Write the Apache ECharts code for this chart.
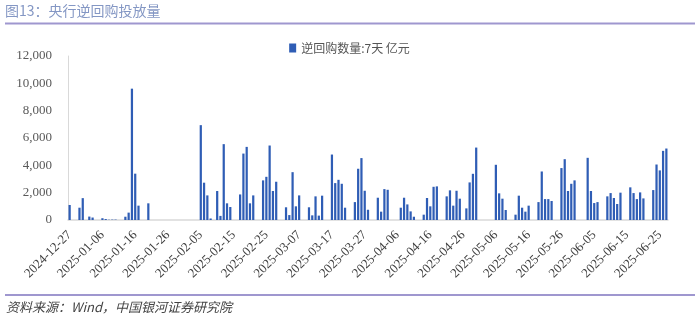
<!DOCTYPE html>
<html>
<head>
<meta charset="utf-8">
<script src="https://cdn.jsdelivr.net/npm/echarts@6/dist/echarts.min.js"></script>
<style>
  html, body { margin: 0; padding: 0; background: #ffffff; }
  #chart { width: 699px; height: 322px; }
</style>
</head>
<body>
<div id="chart"></div>
<script>
// 7-day reverse repo operations by the central bank (亿元), one entry per operation day
const tradeDates = [
  '2024-12-27','2024-12-30','2024-12-31','2025-01-02','2025-01-03',
  '2025-01-06','2025-01-07','2025-01-08','2025-01-09','2025-01-10',
  '2025-01-13','2025-01-14','2025-01-15','2025-01-16','2025-01-17',
  '2025-01-20',
  '2025-02-05','2025-02-06','2025-02-07','2025-02-08',
  '2025-02-10','2025-02-11','2025-02-12','2025-02-13','2025-02-14',
  '2025-02-17','2025-02-18','2025-02-19','2025-02-20','2025-02-21',
  '2025-02-24','2025-02-25','2025-02-26','2025-02-27','2025-02-28',
  '2025-03-03','2025-03-04','2025-03-05','2025-03-06','2025-03-07',
  '2025-03-10','2025-03-11','2025-03-12','2025-03-13','2025-03-14',
  '2025-03-17','2025-03-18','2025-03-19','2025-03-20','2025-03-21',
  '2025-03-24','2025-03-25','2025-03-26','2025-03-27','2025-03-28',
  '2025-03-31','2025-04-01','2025-04-02','2025-04-03',
  '2025-04-07','2025-04-08','2025-04-09','2025-04-10','2025-04-11',
  '2025-04-14','2025-04-15','2025-04-16','2025-04-17','2025-04-18',
  '2025-04-21','2025-04-22','2025-04-23','2025-04-24','2025-04-25',
  '2025-04-27','2025-04-28','2025-04-29','2025-04-30',
  '2025-05-06','2025-05-07','2025-05-08','2025-05-09',
  '2025-05-12','2025-05-13','2025-05-14','2025-05-15','2025-05-16',
  '2025-05-19','2025-05-20','2025-05-21','2025-05-22','2025-05-23',
  '2025-05-26','2025-05-27','2025-05-28','2025-05-29','2025-05-30',
  '2025-06-03','2025-06-04','2025-06-05','2025-06-06',
  '2025-06-09','2025-06-10','2025-06-11','2025-06-12','2025-06-13',
  '2025-06-16','2025-06-17','2025-06-18','2025-06-19','2025-06-20',
  '2025-06-23','2025-06-24','2025-06-25','2025-06-26','2025-06-27'
];
const repoValues = [
  1100, 900, 1600, 250, 180,
  130, 70, 20, 30, 30,
  240, 540, 9610, 3390, 1050,
  1220,
  6940, 2730, 1800, 110,
  2120, 300, 5550, 1220, 950,
  1870, 4860, 5350, 1220, 1800,
  2900, 3160, 5450, 2120, 2800,
  930, 360, 3500, 1000, 1800,
  930, 340, 1730, 320, 1780,
  4790, 2700, 2940, 2650, 900,
  1310, 3750, 4530, 2140, 750,
  1630, 610, 2260, 2210,
  900, 1630, 1140, 630, 240,
  390, 1610, 1000, 2430, 2460,
  1730, 2170, 1050, 2140, 1560,
  850, 2750, 3380, 5300,
  4040, 1950, 1560, 730,
  390, 1780, 900, 610, 1050,
  1310, 3550, 1530, 1530, 1390,
  3800, 4450, 2120, 2650, 2900,
  4550, 2120, 1240, 1310,
  1730, 1970, 1610, 1170, 2000,
  2390, 1970, 1530, 2020, 1580,
  2190, 4060, 3630, 5060, 5230
];
const seriesName = '逆回购数量:7天 亿元';
const yTicks = [0, 2000, 4000, 6000, 8000, 10000, 12000];
const firstDay = '2024-12-27';
const lastDay = '2025-06-27';

// Calendar-day axis: every day between the first and last day is a slot
function buildCalendar(startStr, endStr) {
  const out = [];
  const d = new Date(startStr + 'T00:00:00Z');
  const end = new Date(endStr + 'T00:00:00Z');
  while (d <= end) {
    out.push(d.toISOString().slice(0, 10));
    d.setUTCDate(d.getUTCDate() + 1);
  }
  return out;
}
const calendarDays = buildCalendar(firstDay, lastDay);
const valueByDate = {};
tradeDates.forEach((t, i) => { valueByDate[t] = repoValues[i]; });
const barData = calendarDays.map(t => (t in valueByDate ? valueByDate[t] : null));

const chart = echarts.init(document.getElementById('chart'), null, { renderer: 'canvas' });
chart.setOption({
  animation: false,
  backgroundColor: '#ffffff',
  grid: { left: 68, right: 31, top: 56, bottom: 102, containLabel: false },
  legend: {
    data: [seriesName],
    top: 37,
    left: 'center',
    itemWidth: 7,
    itemHeight: 9,
    itemGap: 4,
    textStyle: { fontFamily: 'Noto Sans CJK SC', fontSize: 12, color: '#555555' },
    icon: 'rect'
  },
  xAxis: {
    type: 'category',
    data: calendarDays,
    boundaryGap: true,
    axisLine: { show: true, lineStyle: { color: '#d9d9d9', width: 1.5 } },
    axisTick: { show: false },
    axisLabel: {
      interval: 9,
      rotate: 45,
      margin: 13,
      fontFamily: 'Liberation Serif',
      fontSize: 13,
      color: '#404040'
    },
    splitLine: { show: false }
  },
  yAxis: {
    type: 'value',
    min: yTicks[0],
    max: yTicks[yTicks.length - 1],
    interval: yTicks[1] - yTicks[0],
    axisLine: { show: true, lineStyle: { color: '#d9d9d9', width: 1 } },
    axisTick: { show: false },
    splitLine: { show: false },
    axisLabel: {
      margin: 16,
      fontFamily: 'Liberation Serif',
      fontSize: 13,
      color: '#595959',
      formatter: v => v.toLocaleString('en-US')
    }
  },
  series: [{
    name: seriesName,
    type: 'bar',
    data: barData,
    barWidth: '68%',
    itemStyle: { color: '#2f5db5' }
  }],
  graphic: [
    {
      type: 'text', left: 5, top: 4,
      style: { text: '图13：央行逆回购投放量', fill: '#8497c4', fontSize: 14,
               fontFamily: 'Noto Sans CJK SC' }
    },
    {
      type: 'line', shape: { x1: 5, y1: 23.5, x2: 695, y2: 23.5 },
      style: { stroke: '#9f97cf', lineWidth: 2 }
    },
    {
      type: 'line', shape: { x1: 5, y1: 295, x2: 695, y2: 295 },
      style: { stroke: '#9f97cf', lineWidth: 2 }
    },
    {
      type: 'text', left: 6, top: 301,
      style: { text: '资料来源：Wind，中国银河证券研究院', fill: '#444444', fontSize: 13,
               fontStyle: 'italic', fontFamily: 'Noto Sans CJK SC' }
    }
  ]
});
</script>
</body>
</html>
